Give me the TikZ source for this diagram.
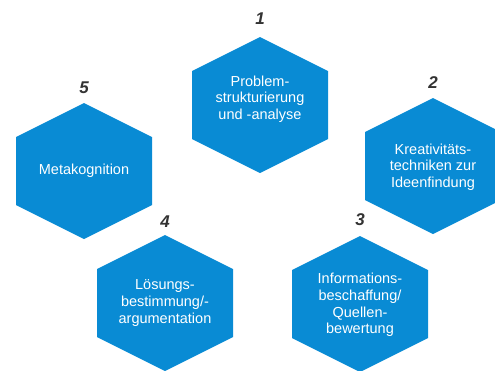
\documentclass[tikz,border=0pt]{standalone}
\usepackage{fontspec}
\setmainfont{Liberation Sans}
\definecolor{hexblue}{RGB}{9,139,212}
\definecolor{numgray}{RGB}{51,51,51}
\begin{document}
\begin{tikzpicture}[x=1pt, y=-1pt, line join=round,
	hex/.style={fill=hexblue},
	hextext/.style={text=white, align=center, font=\fontsize{14.5}{16.7}\selectfont},
	num/.style={text=numgray, font=\fontsize{17}{17}\selectfont\bfseries\itshape}]
			\useasboundingbox (0,0) rectangle (495,370);
			\path
			(260,105) coordinate (A)
			(433,166) coordinate (B)
			(360,304) coordinate (C)
			(165,303) coordinate (D)
			(84,171) coordinate (E);
			\foreach \p in {A,B,C,D,E}
			\fill[hex] (\p)+(0,-68)--+(68,-34)--+(68,34)--+(0,68)--+(-68,34)--+(-68,-34)--cycle;
			\foreach \p/\n/\d in {A/1/86,B/2/83,C/3/84,D/4/81,E/5/83}
			\path (\p)+(0,-\d) node[num] (n\n) {\n};
			\node[hextext] (tA) at (260,99) {Problem-\\strukturierung\\und -analyse};
			\node[hextext] (tB) at (433,167) {Kreativitäts-\\techniken zur\\Ideenfindung};
			\node[hextext] (tC) at (360,305) {Informations-\\beschaffung/\\Quellen-\\bewertung};
			\node[hextext] (tD) at (165,303) {Lösungs-\\bestimmung/-\\argumentation};
			\node[hextext] (tE) at (84,171) {Metakognition};
		\end{tikzpicture}
\end{document}
